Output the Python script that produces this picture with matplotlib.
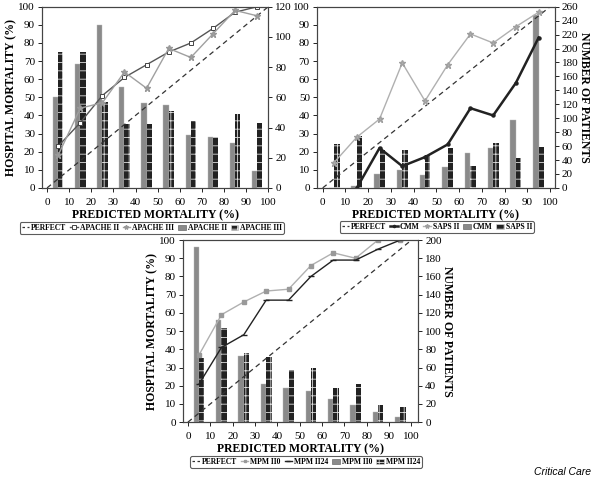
import numpy as np
import matplotlib
matplotlib.use('Agg')
import matplotlib.pyplot as plt
from matplotlib.patches import Patch
from matplotlib.lines import Line2D

plt.rcParams['font.family'] = ['Liberation Serif', 'DejaVu Serif']
plt.rcParams['hatch.linewidth'] = 0.6

# bin centres (predicted mortality deciles)
bins = [5, 15, 25, 35, 45, 55, 65, 75, 85, 95]
perfect_x = [0, 100]
perfect_y = [0, 100]

# panel A: APACHE
apache2_obs = [23, 36, 51, 61, 68, 75, 80, 88, 97, 100]
apache3_obs = [18, 44, 47, 64, 55, 77, 72, 85, 98, 95]
apache2_n = [60, 82, 108, 67, 56, 55, 35, 34, 30, 11]
apache3_n = [90, 90, 57, 42, 42, 51, 44, 34, 49, 43]

# panel B: CMM / SAPS II
cmm_x = [15, 25, 35, 45, 55, 65, 75, 85, 95]
cmm_obs = [0, 22, 12, 17, 24, 44, 40, 58, 83]
saps_obs = [14, 28, 38, 69, 48, 68, 85, 80, 89, 97]
cmm_n = [0, 2, 20, 26, 19, 30, 50, 57, 98, 248]
saps_n = [63, 74, 55, 54, 47, 57, 32, 64, 43, 59]

# panel C: MPM II
mpm0_obs = [37, 59, 66, 72, 73, 86, 93, 90, 100, 100]
mpm24_obs = [21, 41, 48, 67, 67, 80, 89, 89, 95, 100]
mpm0_n = [192, 112, 73, 42, 37, 34, 25, 19, 11, 6]
mpm24_n = [70, 103, 76, 72, 57, 60, 37, 42, 19, 17]

light = '#8a8a8a'
dark = '#222222'
bw = 2.4

fig = plt.figure(figsize=(6, 4.83), dpi=100)


def panel(rect, xlim, ymax2, yt2, s1, s2, n1, n2, names, left_label, right_label, leg_xy):
    ax = fig.add_axes(rect)
    ax2 = ax.twinx()
    x = np.array(bins)
    ax2.bar(x - bw / 2, n1, width=bw, color=light, edgecolor='#bbbbbb', linewidth=0.3)
    ax2.bar(x + bw / 2, n2, width=bw, color=dark, edgecolor='#dddddd', linewidth=0.0, hatch='++')
    ax2.set_ylim(0, ymax2)
    ax2.set_yticks(yt2)
    ax.set_zorder(ax2.get_zorder() + 1)
    ax.patch.set_visible(False)
    ax.plot(perfect_x, perfect_y, ls=(0, (4, 3)), color='#333333', lw=0.9)
    h1 = ax.plot(s1[0], s1[1], **s1[2])[0]
    h2 = ax.plot(s2[0], s2[1], **s2[2])[0]
    ax.set_xlim(*xlim)
    ax.set_ylim(0, 100)
    ax.set_xticks(range(0, 101, 10))
    ax.set_yticks(range(0, 101, 10))
    for a in (ax, ax2):
        a.tick_params(labelsize=8, length=3, width=0.6, pad=2)
        for sp in a.spines.values():
            sp.set_linewidth(0.8)
            sp.set_color('#444444')
    ax.tick_params(axis='x', pad=4)
    ax.set_xlabel('PREDICTED MORTALITY (%)', fontsize=8.5, fontweight='bold', labelpad=2)
    if left_label:
        ax.set_ylabel('HOSPITAL MORTALITY (%)', fontsize=8.5, fontweight='bold', labelpad=1)
    if right_label:
        ax2.set_ylabel('NUMBER OF PATIENTS', fontsize=8.5, fontweight='bold', rotation=270, labelpad=8)
    handles = [
        Line2D([], [], ls=(0, (2, 2)), color='#333333', lw=0.9),
        h1, h2,
        Patch(facecolor=light, edgecolor='#555555', linewidth=0.4),
        Patch(facecolor=dark, edgecolor='#dddddd', hatch='++', linewidth=0.4),
    ]
    labels = ['PERFECT'] + names + names
    leg = fig.legend(handles, labels, loc='center', bbox_to_anchor=leg_xy, ncol=5,
                     prop={'size': 5.5, 'weight': 'bold'}, handlelength=1.0, handletextpad=0.25,
                     columnspacing=0.5, borderpad=0.25, frameon=True, fancybox=True, markerscale=0.7)
    leg.get_frame().set_edgecolor('#333333')
    leg.get_frame().set_linewidth(0.8)
    return ax, ax2


panel([0.07, 0.611, 0.377, 0.375], (-2.3, 100), 120, range(0, 121, 20),
      (bins, apache2_obs, dict(color='#555555', lw=1.0, marker='s', ms=3.5, mfc='white', mec='#444444', mew=0.7)),
      (bins, apache3_obs, dict(color='#a0a0a0', lw=1.0, marker='*', ms=4.5, mec='#999999')),
      apache2_n, apache3_n, ['APACHE II', 'APACHE III'], True, False, (0.253, 0.528))

panel([0.528, 0.611, 0.397, 0.375], (-2.6, 102.2), 260, range(0, 261, 20),
      (cmm_x, cmm_obs, dict(color='#222222', lw=1.8, marker='o', ms=2.2)),
      (bins, saps_obs, dict(color='#b0b0b0', lw=1.0, marker='*', ms=4.5, mec='#a0a0a0')),
      cmm_n, saps_n, ['CMM', 'SAPS II'], False, True, (0.728, 0.530))

panel([0.305, 0.126, 0.392, 0.377], (-2.2, 103), 200, range(0, 201, 20),
      (bins, mpm0_obs, dict(color='#b0b0b0', lw=1.0, marker='s', ms=2.5, mec='#999999', mfc='#999999')),
      (bins, mpm24_obs, dict(color='#222222', lw=1.0, marker='_', ms=4)),
      mpm0_n, mpm24_n, ['MPM II0', 'MPM II24'], True, True, (0.51, 0.0435))

fig.text(0.985, 0.012, 'Critical Care', ha='right', va='bottom', fontsize=7.5,
         style='italic', family='Liberation Sans')

fig.savefig('out.png', dpi=100)
